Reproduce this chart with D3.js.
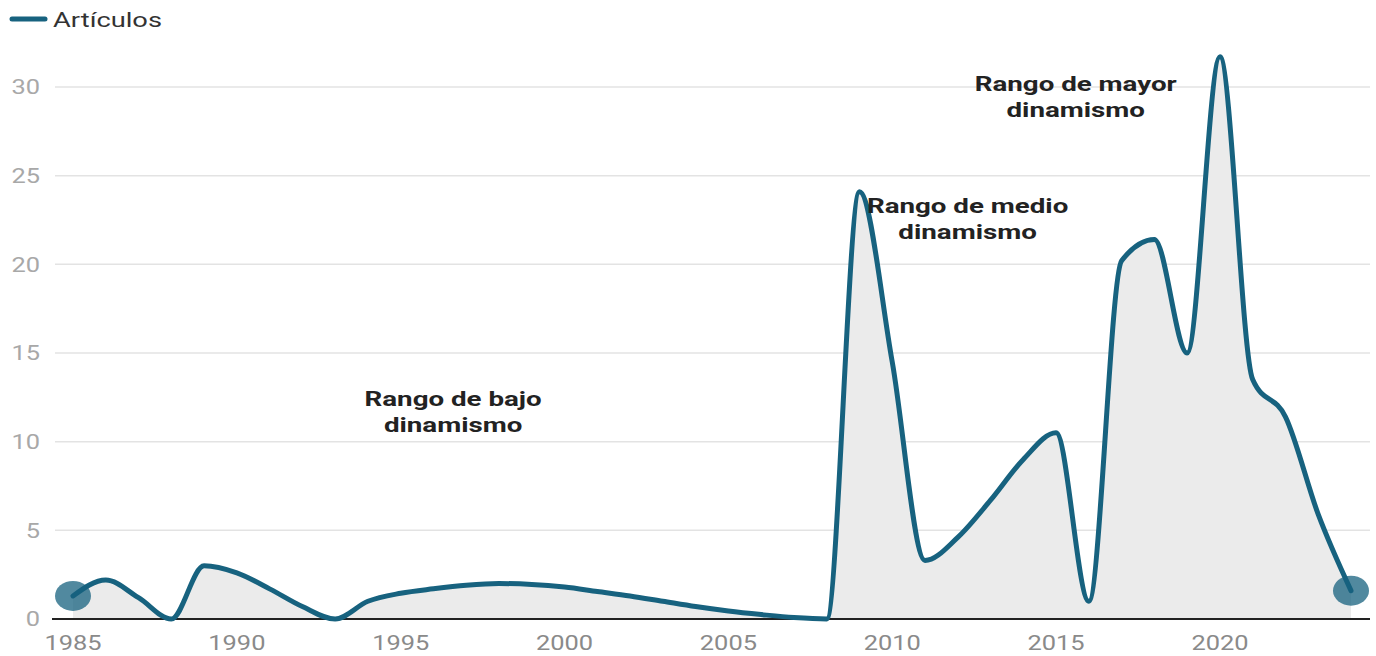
<!DOCTYPE html>
<html>
<head>
<meta charset="utf-8">
<script src="https://cdn.jsdelivr.net/npm/d3@7"></script>
<style>
  body { margin: 0; background: #fff; font-family: Roboto, "Noto Sans", sans-serif; }
</style>
</head>
<body>
<div id="app"></div>
<script>
const width = 1376,
    height = 656;

// years and article counts
const years = [1985, 1986, 1987, 1988, 1989, 1990, 1991, 1992, 1993, 1994,
    1995, 1996, 1997, 1998, 1999, 2000, 2001, 2002, 2003, 2004,
    2005, 2006, 2007, 2008, 2009, 2010, 2011, 2012, 2013, 2014,
    2015, 2016, 2017, 2018, 2019, 2020, 2021, 2022, 2023, 2024];
const articulos = [1.3, 2.2, 1.2, 0, 3.0, 2.6, 1.7, 0.7, 0, 1.0,
    1.45, 1.7, 1.9, 2.0, 1.95, 1.8, 1.55, 1.3, 1.0, 0.7,
    0.45, 0.25, 0.08, 0, 24.1, 14.5, 3.3, 4.6, 6.7, 9.0,
    10.5, 1.0, 20.2, 21.4, 15, 31.7, 13.5, 11.4, 5.9, 1.6];

const yTicks = [0, 5, 10, 15, 20, 25, 30];
const xTicks = [1985, 1990, 1995, 2000, 2005, 2010, 2015, 2020];

const annotations = [
    {lines: ["Rango de bajo", "dinamismo"], year: 1996.6, value: 12.0},
    {lines: ["Rango de medio", "dinamismo"], year: 2012.3, value: 22.9},
    {lines: ["Rango de mayor", "dinamismo"], year: 2015.6, value: 29.75}
];

const data = years.map((y, i) => ({year: y, value: articulos[i]}));

const x = d3.scaleLinear().domain([1985, 2024]).range([73, 1351]);
const y = d3.scaleLinear().domain([0, 30]).range([619, 87]);

// the picture is a bit wider than tall, so text gets stretched
const stretch = 1.27;

const svg = d3.select("#app")
    .append("svg")
    .attr("width", width)
    .attr("height", height);

function label(g, px, py, txt, sx) {
    return g.append("g")
        .attr("transform", "translate(" + px + "," + py + ") scale(" + (sx || stretch) + ",1)")
        .append("text")
        .text(txt);
}

// gridlines
svg.append("g").selectAll("line")
    .data(yTicks.filter(d => d > 0)).enter()
    .append("line")
    .attr("x1", 55).attr("x2", 1370)
    .attr("y1", d => y(d)).attr("y2", d => y(d))
    .attr("stroke", "#e3e3e3")
    .attr("stroke-width", 1.5);

// y labels
const yAxis = svg.append("g");
yTicks.forEach(d => {
    label(yAxis, 40, y(d), d)
        .attr("dy", "0.36em")
        .attr("text-anchor", "end")
        .attr("fill", "#a8a8a8")
        .attr("font-size", 20);
});

const curve = d3.curveMonotoneX;

// area
const area = d3.area()
    .x(d => x(d.year))
    .y0(y(0))
    .y1(d => y(d.value))
    .curve(curve);

svg.append("path")
    .datum(data)
    .attr("d", area)
    .attr("fill", "#ebebeb");

// baseline
svg.append("line")
    .attr("x1", 52).attr("x2", 1370)
    .attr("y1", y(0)).attr("y2", y(0))
    .attr("stroke", "#222")
    .attr("stroke-width", 2);

// x labels
const xAxis = svg.append("g");
xTicks.forEach(d => {
    label(xAxis, x(d), 650, d)
        .attr("text-anchor", "middle")
        .attr("fill", "#8a8a8a")
        .attr("font-size", 20);
});

// line
const line = d3.line()
    .x(d => x(d.year))
    .y(d => y(d.value))
    .curve(curve);

svg.append("path")
    .datum(data)
    .attr("d", line)
    .attr("fill", "none")
    .attr("stroke", "#17627f")
    .attr("stroke-width", 5)
    .attr("stroke-linejoin", "round")
    .attr("stroke-linecap", "round");

// end dots
svg.append("g").selectAll("ellipse")
    .data([data[0], data[data.length - 1]]).enter()
    .append("ellipse")
    .attr("cx", d => x(d.year))
    .attr("cy", d => y(d.value))
    .attr("rx", 18)
    .attr("ry", 15)
    .attr("fill", "#17627f")
    .attr("fill-opacity", 0.75);

// annotations
annotations.forEach(a => {
    a.lines.forEach((l, i) => {
        label(svg, x(a.year), y(a.value) + i * 26, l, 1.32)
            .attr("text-anchor", "middle")
            .attr("font-weight", "bold")
            .attr("font-size", 21)
            .attr("fill", "#222");
    });
});

// legend
svg.append("line")
    .attr("x1", 12).attr("x2", 45)
    .attr("y1", 19).attr("y2", 19)
    .attr("stroke", "#17627f")
    .attr("stroke-width", 5)
    .attr("stroke-linecap", "round");

label(svg, 53, 27, "Artículos", 1.3)
    .attr("fill", "#333")
    .attr("font-size", 21);
</script>
</body>
</html>
